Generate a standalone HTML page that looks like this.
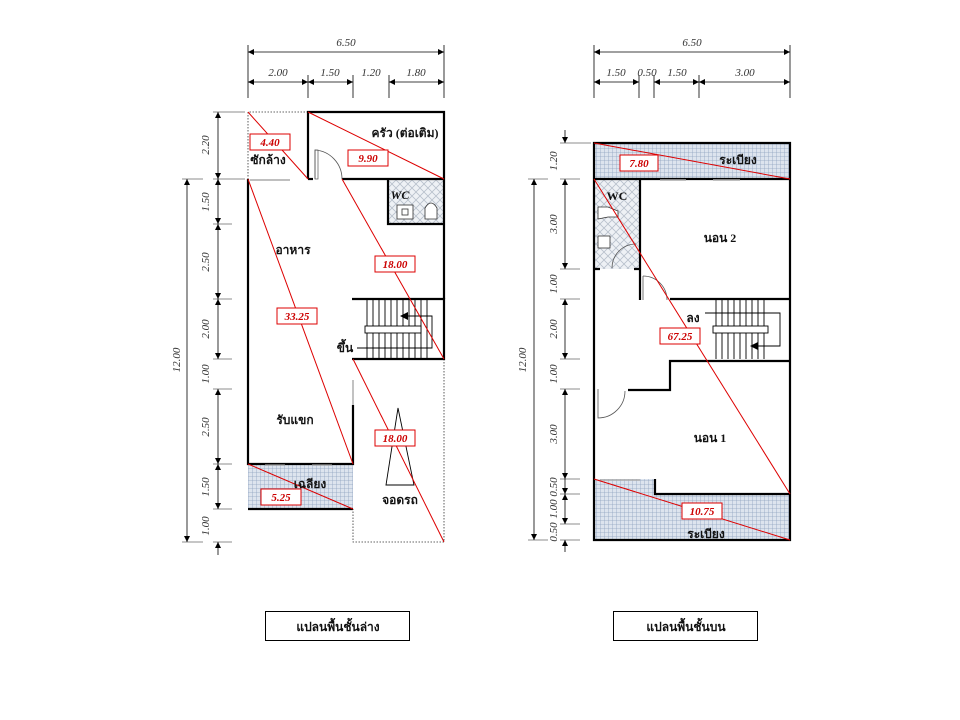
<!DOCTYPE html>
<html><head><meta charset="utf-8">
<style>
html,body{margin:0;padding:0;background:#fff;}
svg{display:block;}
.t{font-family:"Liberation Serif","DejaVu Serif",serif;}
.d{font-family:"Liberation Serif",serif;font-style:italic;font-size:11px;fill:#333;}
.r{font-family:"Liberation Serif",serif;font-style:italic;font-weight:bold;font-size:11px;fill:#c00;}
.th{font-family:"Liberation Serif","DejaVu Sans",serif;font-weight:bold;font-size:12px;fill:#111;}
</style></head><body>
<svg width="960" height="720" viewBox="0 0 960 720" xmlns="http://www.w3.org/2000/svg">
<defs>
<marker id="a" viewBox="0 0 10 10" refX="10" refY="5" markerWidth="8" markerHeight="6" orient="auto-start-reverse" markerUnits="userSpaceOnUse"><path d="M0,0L10,5L0,10z" fill="#000"/></marker>
<pattern id="grid" width="4" height="4" patternUnits="userSpaceOnUse"><rect width="4" height="4" fill="#dde4ee"/><path d="M0,0H4M0,0V4" stroke="#8fa3c0" stroke-width="0.8"/></pattern>
<pattern id="diag" width="8" height="8" patternUnits="userSpaceOnUse"><rect width="8" height="8" fill="#eef1f5"/><path d="M0,0L8,8M8,0L0,8" stroke="#b8c0cc" stroke-width="0.8"/></pattern>
</defs>

<!-- ============ LEFT PLAN ============ -->
<g stroke="#000" stroke-width="0.8" fill="none">
<!-- top dims -->
<line x1="248" y1="45" x2="248" y2="98"/><line x1="444" y1="45" x2="444" y2="98"/>
<line x1="308" y1="75" x2="308" y2="98"/><line x1="353" y1="75" x2="353" y2="98"/><line x1="389" y1="75" x2="389" y2="98"/>
<line x1="248" y1="52" x2="444" y2="52" marker-start="url(#a)" marker-end="url(#a)"/>
<line x1="248" y1="82" x2="308" y2="82" marker-start="url(#a)" marker-end="url(#a)"/>
<line x1="308" y1="82" x2="353" y2="82" marker-start="url(#a)" marker-end="url(#a)"/>
<line x1="389" y1="82" x2="444" y2="82" marker-start="url(#a)" marker-end="url(#a)"/>
<!-- left dims -->
<g stroke="#666"><line x1="213" y1="112" x2="245" y2="112"/><line x1="213" y1="179" x2="245" y2="179"/><line x1="213" y1="224" x2="232" y2="224"/><line x1="213" y1="299" x2="232" y2="299"/><line x1="213" y1="359" x2="232" y2="359"/><line x1="213" y1="389" x2="232" y2="389"/><line x1="213" y1="464" x2="232" y2="464"/><line x1="213" y1="509" x2="232" y2="509"/><line x1="213" y1="542" x2="232" y2="542"/><line x1="182" y1="179" x2="203" y2="179"/><line x1="182" y1="542" x2="203" y2="542"/></g>
<line x1="218" y1="112" x2="218" y2="179" marker-start="url(#a)" marker-end="url(#a)"/>
<line x1="218" y1="179" x2="218" y2="224" marker-start="url(#a)" marker-end="url(#a)"/>
<line x1="218" y1="224" x2="218" y2="299" marker-start="url(#a)" marker-end="url(#a)"/>
<line x1="218" y1="299" x2="218" y2="359" marker-start="url(#a)" marker-end="url(#a)"/>
<line x1="218" y1="389" x2="218" y2="464" marker-start="url(#a)" marker-end="url(#a)"/>
<line x1="218" y1="464" x2="218" y2="509" marker-start="url(#a)" marker-end="url(#a)"/>
<line x1="218" y1="542" x2="218" y2="555" marker-start="url(#a)"/>
<line x1="187" y1="179" x2="187" y2="542" marker-start="url(#a)" marker-end="url(#a)"/>
</g>
<text class="d" x="346" y="46" text-anchor="middle">6.50</text>
<text class="d" x="278" y="76" text-anchor="middle">2.00</text>
<text class="d" x="330" y="76" text-anchor="middle">1.50</text>
<text class="d" x="371" y="76" text-anchor="middle">1.20</text>
<text class="d" x="416" y="76" text-anchor="middle">1.80</text>
<g class="d" text-anchor="middle">
<text transform="translate(209,145) rotate(-90)">2.20</text>
<text transform="translate(209,202) rotate(-90)">1.50</text>
<text transform="translate(209,262) rotate(-90)">2.50</text>
<text transform="translate(209,329) rotate(-90)">2.00</text>
<text transform="translate(209,374) rotate(-90)">1.00</text>
<text transform="translate(209,427) rotate(-90)">2.50</text>
<text transform="translate(209,487) rotate(-90)">1.50</text>
<text transform="translate(209,526) rotate(-90)">1.00</text>
<text transform="translate(180,360) rotate(-90)">12.00</text>
</g>

<!-- fills -->
<rect x="248" y="464" width="105" height="45" fill="url(#grid)"/>
<rect x="388" y="179" width="56" height="45" fill="url(#diag)"/>
<!-- dotted -->
<g stroke="#333" stroke-width="0.8" stroke-dasharray="1.5,1.5" fill="none">
<path d="M308,112H248V179"/>
<path d="M444,359V542H353V509"/>
</g>
<!-- walls -->
<g stroke="#000" stroke-width="2.2" fill="none">
<path d="M308,179V112H444V299"/>
<path d="M308,179H313"/><path d="M342,179H444"/>
<path d="M248,179V464H353V405"/>
<path d="M388,179V224H444"/>
<path d="M352,299H444V359H352"/>
<path d="M248,509H353"/>
</g>
<g stroke="#999" stroke-width="1.2"><line x1="353" y1="380" x2="353" y2="405"/><line x1="250" y1="180" x2="290" y2="180"/><line x1="265" y1="465" x2="285" y2="465"/><line x1="312" y1="465" x2="332" y2="465"/></g>
<!-- door -->
<path d="M315,179V150A29,29 0 0 1 342,179" stroke="#555" stroke-width="0.8" fill="none"/>
<rect x="315" y="150" width="3" height="29" fill="none" stroke="#555" stroke-width="0.7"/>
<!-- wc fixtures -->
<g stroke="#333" stroke-width="0.8" fill="#fff"><rect x="397" y="205" width="16" height="14"/><rect x="402" y="209" width="6" height="6"/><path d="M425,219V208Q431,198 437,208V219Z"/></g>
<!-- stair -->
<g stroke="#000" stroke-width="0.9" fill="none">
<path d="M367,299V359M373,299V359M379,299V359M385,299V359M391,299V359M397,299V359M403,299V359M409,299V359M415,299V359M421,299V359M427,299V359"/>
<rect x="365" y="326" width="56" height="7" fill="#fff"/>
<path d="M357,348H432V316H402"/>
</g>
<path d="M400,316l8,-4v8z" fill="#000"/>
<!-- car triangle -->
<path d="M398,408L386,485H414Z" stroke="#000" stroke-width="0.9" fill="none"/>
<!-- red diagonals -->
<g stroke="#d00" stroke-width="1" fill="none">
<line x1="248" y1="112" x2="308" y2="179"/><line x1="308" y1="112" x2="444" y2="179"/>
<line x1="342" y1="179" x2="444" y2="359"/><line x1="248" y1="179" x2="353" y2="464"/>
<line x1="353" y1="359" x2="444" y2="542"/><line x1="248" y1="464" x2="353" y2="509"/>
</g>
<g stroke="#d00" stroke-width="1" fill="#fff">
<rect x="250" y="134" width="40" height="16"/><rect x="348" y="150" width="40" height="16"/>
<rect x="375" y="256" width="40" height="16"/><rect x="277" y="308" width="40" height="16"/>
<rect x="375" y="430" width="40" height="16"/><rect x="261" y="489" width="40" height="16"/>
</g>
<text class="r" x="270" y="146" text-anchor="middle">4.40</text>
<text class="r" x="368" y="162" text-anchor="middle">9.90</text>
<text class="r" x="395" y="268" text-anchor="middle">18.00</text>
<text class="r" x="297" y="320" text-anchor="middle">33.25</text>
<text class="r" x="395" y="442" text-anchor="middle">18.00</text>
<text class="r" x="281" y="501" text-anchor="middle">5.25</text>
<g class="th" text-anchor="middle">
<text x="268" y="164">ซักล้าง</text>
<text x="405" y="137">ครัว (ต่อเติม)</text>
<text x="400" y="199" font-style="italic">WC</text>
<text x="293" y="254">อาหาร</text>
<text x="345" y="352">ขึ้น</text>
<text x="295" y="424">รับแขก</text>
<text x="310" y="488">เฉลียง</text>
<text x="400" y="504">จอดรถ</text>
</g>

<!-- ============ RIGHT PLAN ============ -->
<g stroke="#000" stroke-width="0.8" fill="none">
<line x1="594" y1="45" x2="594" y2="98"/><line x1="790" y1="45" x2="790" y2="98"/>
<line x1="639" y1="75" x2="639" y2="98"/><line x1="654" y1="75" x2="654" y2="98"/><line x1="699" y1="75" x2="699" y2="98"/>
<line x1="594" y1="52" x2="790" y2="52" marker-start="url(#a)" marker-end="url(#a)"/>
<line x1="594" y1="82" x2="639" y2="82" marker-start="url(#a)" marker-end="url(#a)"/>
<line x1="654" y1="82" x2="699" y2="82" marker-start="url(#a)" marker-end="url(#a)"/>
<line x1="699" y1="82" x2="790" y2="82" marker-start="url(#a)" marker-end="url(#a)"/>
<g stroke="#666"><line x1="560" y1="143" x2="591" y2="143"/><line x1="560" y1="179" x2="580" y2="179"/><line x1="560" y1="269" x2="580" y2="269"/><line x1="560" y1="299" x2="580" y2="299"/><line x1="560" y1="359" x2="580" y2="359"/><line x1="560" y1="389" x2="580" y2="389"/><line x1="560" y1="479" x2="580" y2="479"/><line x1="560" y1="494" x2="580" y2="494"/><line x1="560" y1="524" x2="580" y2="524"/><line x1="560" y1="540" x2="580" y2="540"/><line x1="528" y1="179" x2="548" y2="179"/><line x1="528" y1="540" x2="548" y2="540"/></g>
<line x1="565" y1="130" x2="565" y2="143" marker-end="url(#a)"/>
<line x1="565" y1="179" x2="565" y2="269" marker-start="url(#a)" marker-end="url(#a)"/>
<line x1="565" y1="299" x2="565" y2="359" marker-start="url(#a)" marker-end="url(#a)"/>
<line x1="565" y1="389" x2="565" y2="479" marker-start="url(#a)" marker-end="url(#a)"/>
<line x1="565" y1="479" x2="565" y2="494" marker-end="url(#a)"/>
<line x1="565" y1="494" x2="565" y2="524" marker-start="url(#a)" marker-end="url(#a)"/>
<line x1="565" y1="540" x2="565" y2="552" marker-start="url(#a)"/>
<line x1="534" y1="179" x2="534" y2="540" marker-start="url(#a)" marker-end="url(#a)"/>
</g>
<text class="d" x="692" y="46" text-anchor="middle">6.50</text>
<text class="d" x="616" y="76" text-anchor="middle">1.50</text>
<text class="d" x="647" y="76" text-anchor="middle">0.50</text>
<text class="d" x="677" y="76" text-anchor="middle">1.50</text>
<text class="d" x="745" y="76" text-anchor="middle">3.00</text>
<g class="d" text-anchor="middle">
<text transform="translate(557,161) rotate(-90)">1.20</text>
<text transform="translate(557,224) rotate(-90)">3.00</text>
<text transform="translate(557,284) rotate(-90)">1.00</text>
<text transform="translate(557,329) rotate(-90)">2.00</text>
<text transform="translate(557,374) rotate(-90)">1.00</text>
<text transform="translate(557,434) rotate(-90)">3.00</text>
<text transform="translate(557,487) rotate(-90)">0.50</text>
<text transform="translate(557,509) rotate(-90)">1.00</text>
<text transform="translate(557,532) rotate(-90)">0.50</text>
<text transform="translate(526,360) rotate(-90)">12.00</text>
</g>
<rect x="594" y="143" width="196" height="36" fill="url(#grid)"/>
<path d="M594,479H655V494H790V540H594Z" fill="url(#grid)"/>
<rect x="594" y="179" width="46" height="90" fill="url(#diag)"/>
<g stroke="#000" stroke-width="2.2" fill="none">
<path d="M594,143H790V540H594Z"/>
<path d="M594,179H790"/>
<path d="M640,179V300"/>
<path d="M594,269H600M634,269H640"/>
<path d="M670,299H790"/>
<path d="M790,361H670V390H628"/>
<path d="M655,479V494H790"/>
</g>
<g stroke="#aaa" stroke-width="1.4"><line x1="660" y1="180" x2="686" y2="180"/><line x1="713" y1="180" x2="740" y2="180"/><line x1="600" y1="480" x2="640" y2="480"/></g>
<g stroke="#555" stroke-width="0.8" fill="none">
<path d="M643,276V300"/><path d="M643,276A24,24 0 0 1 667,300"/>
<path d="M598,389V418A27,27 0 0 0 625,391"/>
<path d="M612,268A24,24 0 0 1 636,244"/>
</g>
<g stroke="#333" stroke-width="0.8" fill="#fff"><path d="M598,207h10l10,4v6h-10l-10,2z"/><rect x="598" y="236" width="12" height="12"/></g>
<g stroke="#000" stroke-width="0.9" fill="none">
<path d="M716,299V359M722,299V359M728,299V359M734,299V359M740,299V359M746,299V359M752,299V359M758,299V359M764,299V359"/>
<rect x="713" y="326" width="55" height="7" fill="#fff"/>
<path d="M705,313H780V346H752"/>
</g>
<path d="M750,346l8,-4v8z" fill="#000"/>
<g stroke="#d00" stroke-width="1" fill="none">
<line x1="594" y1="143" x2="790" y2="179"/><line x1="594" y1="179" x2="790" y2="494"/><line x1="594" y1="479" x2="790" y2="540"/>
</g>
<g stroke="#d00" stroke-width="1" fill="#fff">
<rect x="620" y="155" width="38" height="16"/><rect x="660" y="328" width="40" height="16"/><rect x="682" y="503" width="40" height="16"/>
</g>
<text class="r" x="639" y="167" text-anchor="middle">7.80</text>
<text class="r" x="680" y="340" text-anchor="middle">67.25</text>
<text class="r" x="702" y="515" text-anchor="middle">10.75</text>
<g class="th" text-anchor="middle">
<text x="738" y="164">ระเบียง</text>
<text x="617" y="200">WC</text>
<text x="720" y="242">นอน 2</text>
<text x="693" y="322">ลง</text>
<text x="710" y="442">นอน 1</text>
<text x="706" y="538">ระเบียง</text>
</g>

<!-- captions -->
<rect x="265.5" y="611.5" width="144" height="29" fill="#fff" stroke="#000" stroke-width="1"/>
<rect x="613.5" y="611.5" width="144" height="29" fill="#fff" stroke="#000" stroke-width="1"/>
<text class="th" x="338" y="631" text-anchor="middle" font-size="14">แปลนพื้นชั้นล่าง</text>
<text class="th" x="686" y="631" text-anchor="middle" font-size="14">แปลนพื้นชั้นบน</text>
</svg>
</body></html>
